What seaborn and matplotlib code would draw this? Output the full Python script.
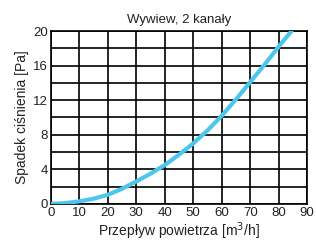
import matplotlib
matplotlib.use('Agg')
import matplotlib.pyplot as plt
import seaborn as sns

# Air flow [m3/h] vs pressure drop [Pa]
flow = [0, 5, 10, 15, 20, 25, 30, 35, 40, 45, 50, 55, 60, 65, 70, 75, 80, 84.5]
pressure = [0, 0.08, 0.3, 0.6, 1.05, 1.75, 2.6, 3.5, 4.5, 5.7, 7.0, 8.5, 10.2, 12.1, 14.1, 16.1, 18.2, 20]

sns.set_style('white')
plt.rcParams['font.family'] = ['Liberation Sans', 'DejaVu Sans']

fig = plt.figure(figsize=(3.16, 2.41), dpi=100)
ax = fig.add_axes([0.161, 0.154, 0.811, 0.717])

sns.lineplot(x=flow, y=pressure, color='#4DC6EE', linewidth=3, ax=ax, zorder=3)

ax.set_xlim(0, 90)
ax.set_ylim(0, 20)
ax.set_xticks(range(0, 91, 10))
ax.set_yticks(range(0, 21, 4))
ax.set_yticks(range(0, 21, 2), minor=True)
ax.grid(True, which='both', color='black', linewidth=1.2)
ax.tick_params(axis='both', which='both', length=0, labelsize=9.5, colors='#222222', pad=2)
for s in ax.spines.values():
    s.set_color('black')
    s.set_linewidth(1.2)

ax.set_title('Wywiew, 2 kanały', fontsize=9.5, color='#222222', pad=6)
ax.set_xlabel('Przepływ powietrza [m$^3$/h]', fontsize=10, color='#222222', labelpad=1)
ax.set_ylabel('Spadek ciśnienia [Pa]', fontsize=10, color='#222222', labelpad=3)

fig.savefig('out.png', dpi=100)
